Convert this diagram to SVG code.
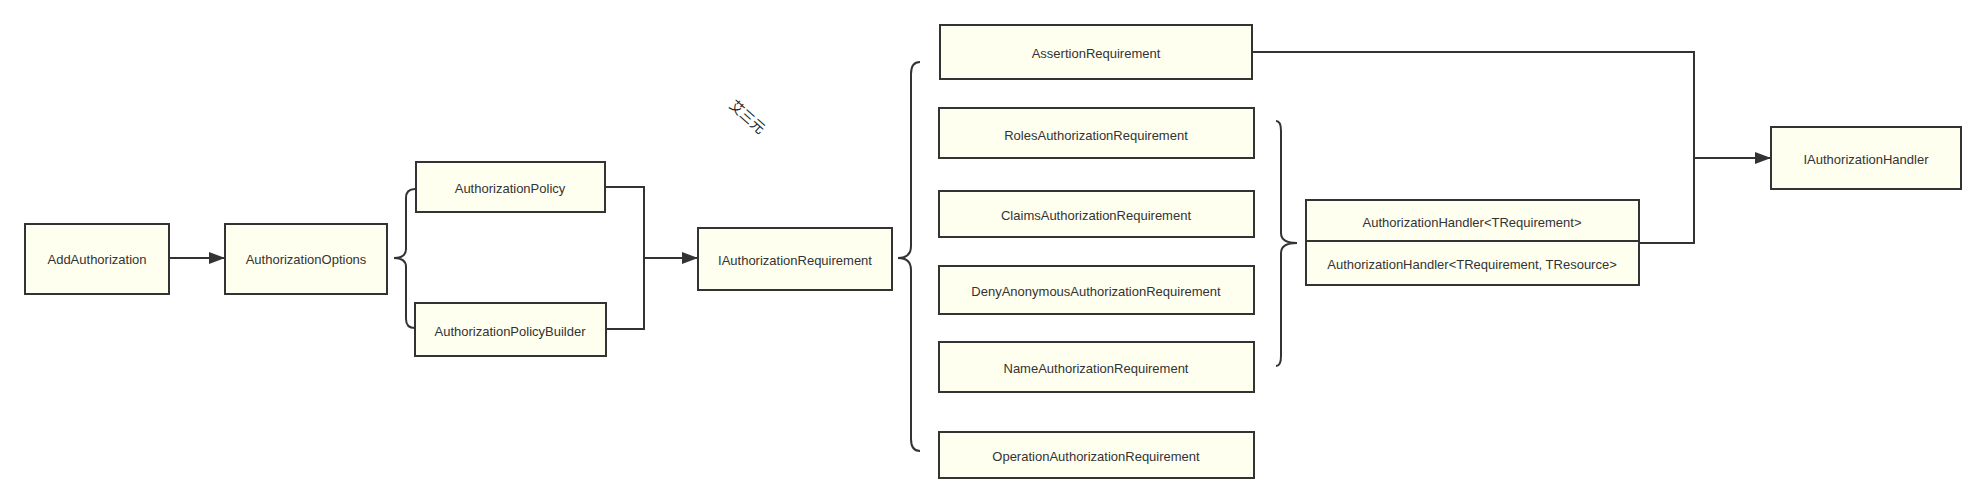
<svg xmlns="http://www.w3.org/2000/svg" width="1986" height="503" viewBox="0 0 1986 503">
<defs>
<style>
.box{fill:#fffff0;stroke:#333;stroke-width:2}
.t{font-family:"Liberation Sans",Arial,sans-serif;font-size:13px;fill:#333;text-anchor:middle;dominant-baseline:central}
.c{fill:none;stroke:#333;stroke-width:2}
.cn{font-family:"Noto Sans CJK SC","Liberation Sans",sans-serif;font-size:14px;fill:#222;text-anchor:middle;dominant-baseline:central}
</style>
<marker id="arr" markerWidth="16" markerHeight="12" refX="15" refY="6" orient="auto" markerUnits="userSpaceOnUse">
<path d="M0,0 L16,6 L0,12 Z" fill="#333"/>
</marker>
</defs>
<rect width="1986" height="503" fill="#ffffff"/>
<g id="connectors">
<line class="c" x1="169" y1="258" x2="224" y2="258" marker-end="url(#arr)"/>
<path class="c" d="M415 189 Q406 189 406 198 L406 249 Q406 258 394 258 Q406 258 406 267 L406 319 Q406 328 415 328"/>
<path class="c" d="M605 187 L644 187 L644 329 L606 329"/>
<line class="c" x1="644" y1="258" x2="697" y2="258" marker-end="url(#arr)"/>
<path class="c" d="M920 62 Q911 62 911 74 L911 246 Q911 258 898 258 Q911 258 911 270 L911 439 Q911 451 920 451"/>
<path class="c" d="M1276 121 Q1281 121 1281 131 L1281 233 Q1281 243 1297 243 Q1281 243 1281 253 L1281 356 Q1281 366 1276 366"/>
<path class="c" d="M1252 52 L1694 52 L1694 243 L1639 243"/>
<line class="c" x1="1694" y1="158" x2="1770" y2="158" marker-end="url(#arr)"/>
</g>
<g id="n-addauthorization"><rect class="box" x="25" y="224" width="144" height="70"/><text class="t" x="97" y="259">AddAuthorization</text></g>
<g id="n-authorizationoptions"><rect class="box" x="225" y="224" width="162" height="70"/><text class="t" x="306" y="259">AuthorizationOptions</text></g>
<g id="n-authorizationpolicy"><rect class="box" x="416" y="162" width="189" height="50"/><text class="t" x="510" y="188">AuthorizationPolicy</text></g>
<g id="n-authorizationpolicybuilder"><rect class="box" x="415" y="303" width="191" height="53"/><text class="t" x="510" y="331">AuthorizationPolicyBuilder</text></g>
<g id="n-iauthorizationrequirement"><rect class="box" x="698" y="228" width="194" height="62"/><text class="t" x="795" y="260">IAuthorizationRequirement</text></g>
<g id="n-assertion"><rect class="box" x="940" y="25" width="312" height="54"/><text class="t" x="1096" y="53">AssertionRequirement</text></g>
<g id="n-roles"><rect class="box" x="939" y="108" width="315" height="50"/><text class="t" x="1096" y="135">RolesAuthorizationRequirement</text></g>
<g id="n-claims"><rect class="box" x="939" y="191" width="315" height="46"/><text class="t" x="1096" y="215">ClaimsAuthorizationRequirement</text></g>
<g id="n-denyanonymous"><rect class="box" x="939" y="266" width="315" height="48"/><text class="t" x="1096" y="291">DenyAnonymousAuthorizationRequirement</text></g>
<g id="n-name"><rect class="box" x="939" y="342" width="315" height="50"/><text class="t" x="1096" y="368">NameAuthorizationRequirement</text></g>
<g id="n-operation"><rect class="box" x="939" y="432" width="315" height="46"/><text class="t" x="1096" y="456">OperationAuthorizationRequirement</text></g>
<g id="n-authorizationhandler"><rect class="box" x="1306" y="200" width="333" height="85"/><line class="c" x1="1306" y1="241" x2="1639" y2="241"/><text class="t" x="1472" y="222">AuthorizationHandler&lt;TRequirement&gt;</text><text class="t" x="1472" y="264">AuthorizationHandler&lt;TRequirement, TResource&gt;</text></g>
<g id="n-iauthorizationhandler"><rect class="box" x="1771" y="127" width="190" height="62"/><text class="t" x="1866" y="159">IAuthorizationHandler</text></g>
<text class="cn" transform="translate(748,116) rotate(42)">艾三元</text>
</svg>
